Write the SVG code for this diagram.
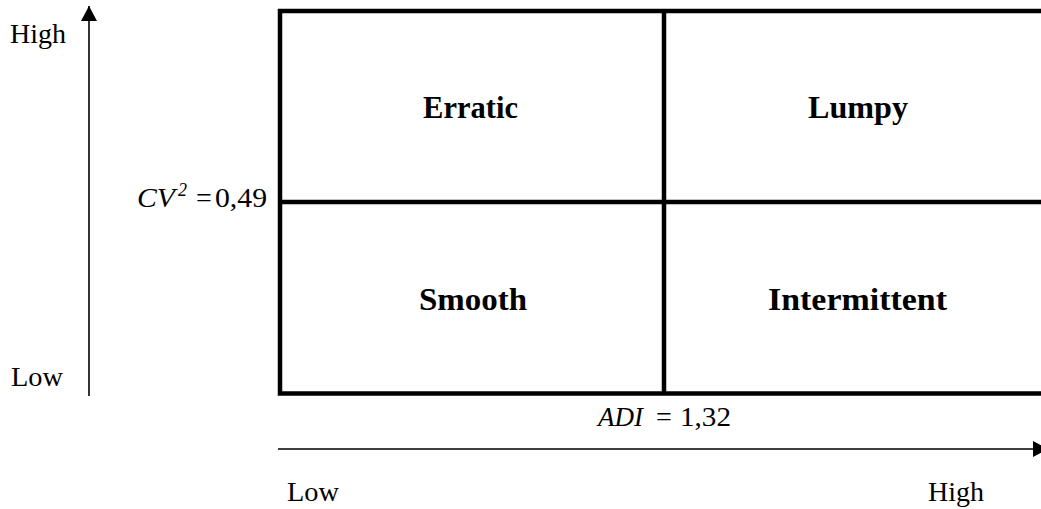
<svg xmlns="http://www.w3.org/2000/svg" width="1041" height="509" viewBox="0 0 1041 509">
  <defs>
    <marker id="arrow" markerUnits="userSpaceOnUse" markerWidth="16" markerHeight="16" refX="15" refY="8" orient="auto">
      <path d="M0,0 L15,8 L0,16 Z" fill="#000"/>
    </marker>
    <style>
      .axis { stroke: #000; stroke-width: 1.6; fill: none; }
      .grid { stroke: #000; stroke-width: 4.5; fill: none; }
      .lbl { font-family: "Liberation Serif", "Times New Roman", serif; font-size: 28px; fill: #000; }
      .sup { font-family: "Liberation Serif", "Times New Roman", serif; font-size: 18px; font-style: italic; fill: #000; }
      .cell { font-family: "Liberation Serif", "Times New Roman", serif; font-size: 31px; font-weight: bold; fill: #000; }
      .it { font-style: italic; }
    </style>
  </defs>

  <!-- axes -->
  <g id="connectors">
    <line class="axis" x1="89" y1="396" x2="89" y2="6" marker-end="url(#arrow)"/>
    <line class="axis" x1="278" y1="449" x2="1048" y2="449" marker-end="url(#arrow)"/>
  </g>

  <!-- quadrant grid -->
  <g id="grid">
    <path class="grid" d="M1041,11 H280 V393.5 H1041"/>
    <line class="grid" x1="280" y1="202" x2="1041" y2="202"/>
    <line class="grid" x1="664" y1="11" x2="664" y2="393.5"/>
  </g>

  <g id="erratic"><text class="cell" x="423" y="118" textLength="95" lengthAdjust="spacingAndGlyphs">Erratic</text></g>
  <g id="lumpy"><text class="cell" x="808" y="118" textLength="100" lengthAdjust="spacingAndGlyphs">Lumpy</text></g>
  <g id="smooth"><text class="cell" x="419" y="310" textLength="108" lengthAdjust="spacingAndGlyphs">Smooth</text></g>
  <g id="intermittent"><text class="cell" x="768" y="310" textLength="179" lengthAdjust="spacingAndGlyphs">Intermittent</text></g>

  <!-- thresholds -->
  <g id="cv-threshold">
    <text class="lbl it" x="137" y="207" textLength="38" lengthAdjust="spacingAndGlyphs">CV</text>
    <text class="sup" x="178" y="196">2</text>
    <text class="lbl" x="196" y="207">=</text>
    <text class="lbl" x="215" y="207" textLength="52" lengthAdjust="spacingAndGlyphs">0,49</text>
  </g>
  <g id="adi-threshold">
    <text class="lbl it" x="598" y="426" textLength="45" lengthAdjust="spacingAndGlyphs">ADI</text>
    <text class="lbl" x="656" y="426">=</text>
    <text class="lbl" x="680" y="426" textLength="51" lengthAdjust="spacingAndGlyphs">1,32</text>
  </g>

  <!-- axis labels -->
  <g id="y-labels">
    <text class="lbl" x="10" y="43" textLength="56" lengthAdjust="spacingAndGlyphs">High</text>
    <text class="lbl" x="11" y="386" textLength="52" lengthAdjust="spacingAndGlyphs">Low</text>
  </g>
  <g id="x-labels">
    <text class="lbl" x="287" y="501" textLength="52" lengthAdjust="spacingAndGlyphs">Low</text>
    <text class="lbl" x="928" y="501" textLength="56" lengthAdjust="spacingAndGlyphs">High</text>
  </g>
</svg>
